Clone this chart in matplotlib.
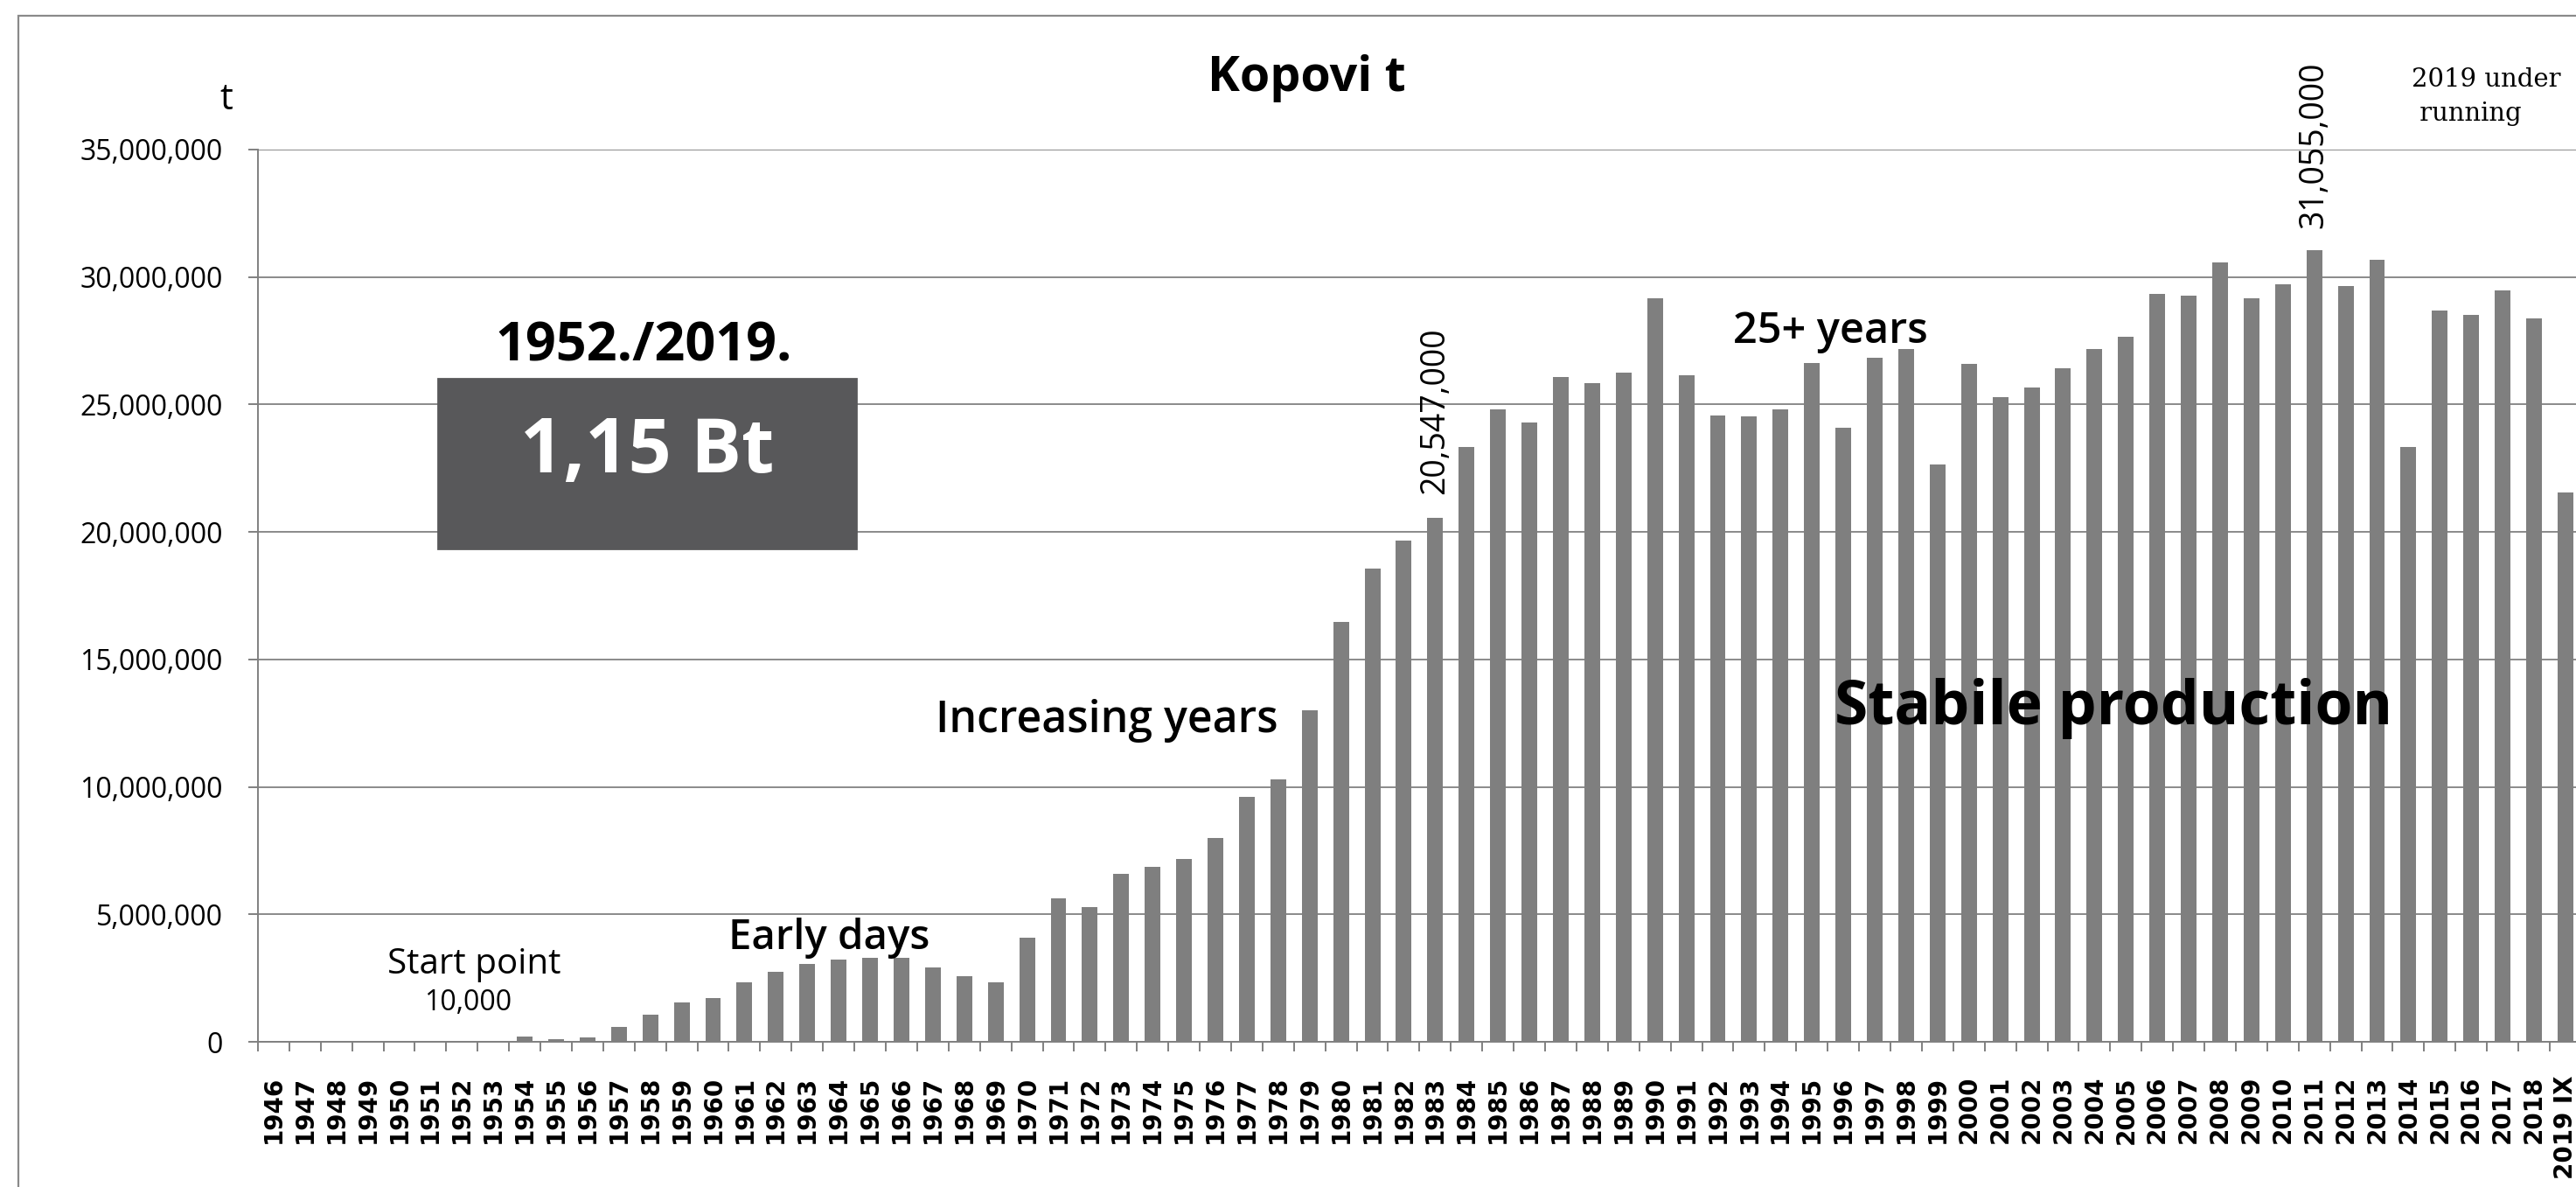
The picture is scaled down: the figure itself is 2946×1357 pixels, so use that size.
import numpy as np
import matplotlib
matplotlib.use("Agg")
from matplotlib import pyplot as plt
from matplotlib.patches import Rectangle
from matplotlib.ticker import FuncFormatter, FixedLocator

# data (tonnes per year)
years = [str(y) for y in range(1946, 2019)] + ['2019 IX']
production_mt = [
    0, 0, 0, 0, 0, 0, 0.01, 0,                                   # 1946-1953
    0.20, 0.12, 0.18, 0.57, 1.06, 1.53, 1.73, 2.35, 2.73, 3.04,  # 1954-1963
    3.24, 3.30,                                                  # 1964-1965
    3.30, 2.93, 2.56, 2.35, 4.07, 5.62, 5.28, 6.60, 6.88, 7.16,  # 1966-1975
    7.99, 9.61, 10.31, 12.99, 16.47,                             # 1976-1980
    18.58, 19.65, 20.547, 23.35, 24.80, 24.29, 26.07, 25.85,     # 1981-1988
    26.26, 29.15, 26.15, 24.57, 24.54,                           # 1989-1993
    24.82, 26.62, 24.08, 26.82, 27.17, 22.66, 26.60, 25.30,      # 1994-2001
    25.66, 26.43, 27.18, 27.66, 29.35, 29.28, 30.58, 29.17,      # 2002-2009
    29.72, 31.055, 29.65, 30.69, 23.34, 28.69, 28.52, 29.46,     # 2010-2017
    28.37, 21.54,                                                # 2018, 2019 IX
]
production = np.array(production_mt) * 1e6
yticks = np.arange(0, 35000001, 5000000)

plt.rcParams['font.family'] = 'Open Sans'

fig = plt.figure(figsize=(14.73, 6.785), dpi=200)
ax = fig.add_axes([0.1001, 0.1223, 0.9019, 0.7517])

x = np.arange(len(years))
ax.bar(x, production, width=0.5, color='#7f7f7f', zorder=2)

# axes look (excel-like)
ax.set_xlim(-0.5, len(years) - 0.5)
ax.set_ylim(0, 35000000)
ax.set_yticks(yticks)
ax.yaxis.set_major_formatter(FuncFormatter(lambda v, p: f'{int(v):,}'))
ax.grid(axis='y', color='#8a8a8a', linewidth=0.7)
ax.set_axisbelow(True)
for s in ['top', 'right']:
    ax.spines[s].set_visible(False)
for s in ['left', 'bottom']:
    ax.spines[s].set_color('#808080')
    ax.spines[s].set_linewidth(0.7)

ax.set_xticks(x)
ax.set_xticklabels(years, rotation=90, fontsize=10, fontweight='bold',
                   family='DejaVu Sans')
ax.xaxis.set_minor_locator(FixedLocator(np.arange(-0.5, len(years), 1)))
ax.tick_params(axis='x', which='major', length=0, pad=14)
ax.tick_params(axis='x', which='minor', length=4, color='#808080', width=0.7)
ax.tick_params(axis='y', length=4, color='#808080', width=0.7, pad=10.5,
               labelsize=11.5)

# titles and notes
ax.text(32.9, 37.8e6, 'Kopovi t', ha='center', va='center', fontsize=20,
        fontweight='bold', clip_on=False)
ax.text(-1.5, 36.96e6, 't', ha='center', va='center', fontsize=15, clip_on=False)

ax.text(11.8, 27.25e6, '1952./2019.', ha='center', va='center', fontsize=22,
        fontweight='bold')
ax.add_patch(Rectangle((5.24, 19.36e6), 13.31, 6.65e6, color='#58585a', zorder=3))
ax.text(11.9, 23.1e6, '1,15 Bt', ha='center', va='center', fontsize=31,
        fontweight='bold', color='white', zorder=4)

ax.text(6.4, 3.02e6, 'Start point', ha='center', va='center', fontsize=14.5)
ax.text(6.2, 1.54e6, '10,000', ha='center', va='center', fontsize=11.5)
ax.text(17.7, 4.08e6, 'Early days', ha='center', va='center', fontsize=17,
        fontweight='semibold')
ax.text(26.55, 12.6e6, 'Increasing years', ha='center', va='center',
        fontsize=18, fontweight='semibold')
ax.text(49.6, 27.83e6, '25+ years', ha='center', va='center', fontsize=17.5,
        fontweight='semibold')
ax.text(58.6, 13.07e6, 'Stabile production', ha='center', va='center',
        fontsize=25, fontweight='bold', zorder=4)

ax.text(37, 21.48e6, '20,547,000', rotation=90, ha='center', va='bottom',
        fontsize=13.5)
ax.text(65, 31.91e6, '31,055,000', rotation=90, ha='center', va='bottom',
        fontsize=13.5, clip_on=False)
ax.text(68.1, 37.06e6, '2019 under\n running', ha='left', va='center',
        fontsize=10.5, family='DejaVu Serif', linespacing=1.5, clip_on=False)

# outer chart frame
fig.patches.append(Rectangle((21 / 2946, -0.05), 1.1, 1.05 - 18 / 1357,
                             transform=fig.transFigure, fill=False,
                             edgecolor='#8a8a8a', linewidth=0.8))

plt.savefig('out.png', dpi=200)
plt.close()
